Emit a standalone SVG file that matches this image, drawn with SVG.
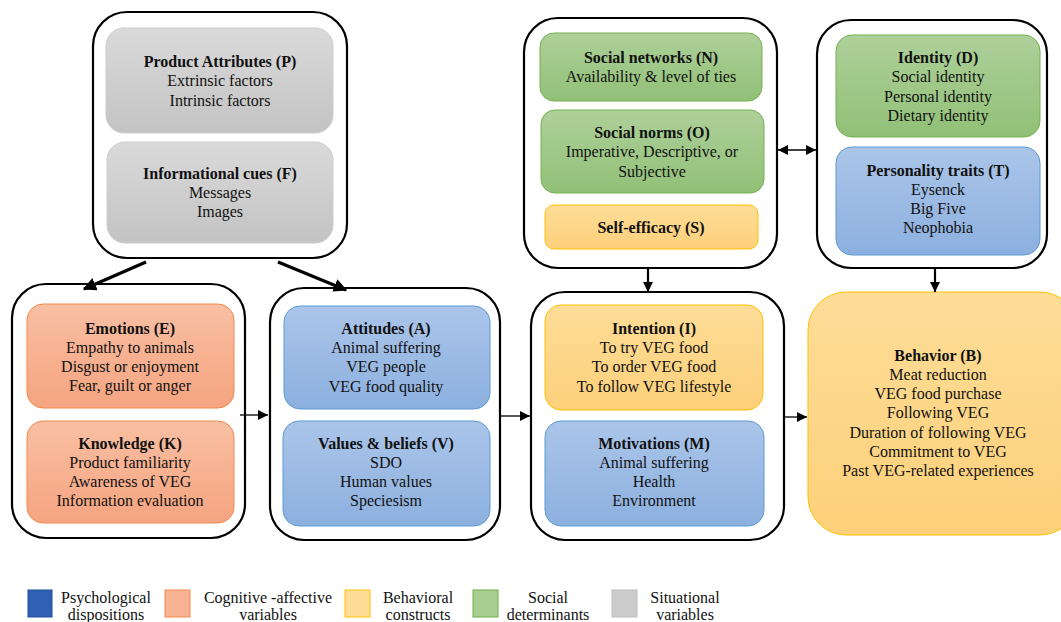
<svg xmlns="http://www.w3.org/2000/svg" width="1061" height="622" viewBox="0 0 1061 622">
<defs>
<linearGradient id="gGray" x1="0" y1="0" x2="0" y2="1"><stop offset="0" stop-color="#dadada"/><stop offset="1" stop-color="#c3c3c3"/></linearGradient>
<linearGradient id="gGreen" x1="0" y1="0" x2="0" y2="1"><stop offset="0" stop-color="#aed09a"/><stop offset="1" stop-color="#91c077"/></linearGradient>
<linearGradient id="gBlue" x1="0" y1="0" x2="0" y2="1"><stop offset="0" stop-color="#abc5e9"/><stop offset="1" stop-color="#8cb0df"/></linearGradient>
<linearGradient id="gOrange" x1="0" y1="0" x2="0" y2="1"><stop offset="0" stop-color="#f9bfa3"/><stop offset="1" stop-color="#f5a480"/></linearGradient>
<linearGradient id="gYellow" x1="0" y1="0" x2="0" y2="1"><stop offset="0" stop-color="#fedd98"/><stop offset="1" stop-color="#fdd07a"/></linearGradient>
<marker id="ah" viewBox="0 0 10 10" refX="10" refY="5" markerWidth="10" markerHeight="10" markerUnits="userSpaceOnUse" orient="auto-start-reverse"><path d="M0,0 L10,5 L0,10 Z" fill="#000"/></marker>
<marker id="ahT" viewBox="0 0 10 10" refX="9" refY="5" markerWidth="4.2" markerHeight="4.2" orient="auto"><path d="M0,0 L10,5 L0,10 Z" fill="#000"/></marker>
</defs>
<style>
.outer{fill:#fff;stroke:#000;stroke-width:2.2}
.gray{fill:url(#gGray);stroke:#cdcdcd;stroke-width:1}
.green{fill:url(#gGreen);stroke:#76b04e;stroke-width:1}
.blue{fill:url(#gBlue);stroke:#5b9bd5;stroke-width:1}
.orange{fill:url(#gOrange);stroke:#f08a4b;stroke-width:1}
.yellow{fill:url(#gYellow);stroke:#ffc000;stroke-width:1}
text{font-family:"Liberation Serif","Times New Roman",serif;font-size:16px;fill:#111;text-anchor:middle}
.t{font-weight:bold}
.conn{stroke:#000;fill:none}
</style>

<g id="container-situational">
<rect class="outer" x="93" y="12" width="254" height="246" rx="34"/>
</g>
<g id="node-P">
<rect class="gray" x="106" y="28" width="227" height="105" rx="18"/>
<text x="220" y="67" class="t">Product Attributes (P)</text>
<text x="220" y="86">Extrinsic factors</text>
<text x="220" y="106">Intrinsic factors</text>
</g>
<g id="node-F">
<rect class="gray" x="107" y="142" width="226" height="101" rx="18"/>
<text x="220" y="179" class="t">Informational cues (F)</text>
<text x="220" y="198">Messages</text>
<text x="220" y="217">Images</text>
</g>

<g id="container-social">
<rect class="outer" x="524" y="18" width="253" height="250" rx="34"/>
</g>
<g id="node-N">
<rect class="green" x="540" y="33" width="222" height="68" rx="14"/>
<text x="651" y="63" class="t">Social networks (N)</text>
<text x="651" y="82">Availability &amp; level of ties</text>
</g>
<g id="node-O">
<rect class="green" x="541" y="110" width="223" height="83" rx="14"/>
<text x="652" y="138" class="t">Social norms (O)</text>
<text x="652" y="157">Imperative, Descriptive, or</text>
<text x="652" y="177">Subjective</text>
</g>
<g id="node-S">
<rect class="yellow" x="545" y="205" width="213" height="44" rx="9"/>
<text x="651" y="233" class="t">Self-efficacy (S)</text>
</g>

<g id="container-identity">
<rect class="outer" x="817" y="20" width="230" height="248" rx="34"/>
</g>
<g id="node-D">
<rect class="green" x="836" y="35" width="204" height="102" rx="16"/>
<text x="938" y="63" class="t">Identity (D)</text>
<text x="938" y="82">Social identity</text>
<text x="938" y="102">Personal identity</text>
<text x="938" y="121">Dietary identity</text>
</g>
<g id="node-T">
<rect class="blue" x="836" y="147" width="204" height="108" rx="16"/>
<text x="938" y="176" class="t">Personality traits (T)</text>
<text x="938" y="195">Eysenck</text>
<text x="938" y="214">Big Five</text>
<text x="938" y="233">Neophobia</text>
</g>

<g id="container-cognitive">
<rect class="outer" x="12" y="284" width="233" height="254" rx="34"/>
</g>
<g id="node-E">
<rect class="orange" x="27" y="304" width="207" height="104" rx="16"/>
<text x="130" y="334" class="t">Emotions (E)</text>
<text x="130" y="353">Empathy to animals</text>
<text x="130" y="372">Disgust or enjoyment</text>
<text x="130" y="391">Fear, guilt or anger</text>
</g>
<g id="node-K">
<rect class="orange" x="27" y="421" width="207" height="102" rx="16"/>
<text x="130" y="449" class="t">Knowledge (K)</text>
<text x="130" y="468">Product familiarity</text>
<text x="130" y="487">Awareness of VEG</text>
<text x="130" y="506">Information evaluation</text>
</g>

<g id="container-psych">
<rect class="outer" x="270" y="288" width="230" height="252" rx="34"/>
</g>
<g id="node-A">
<rect class="blue" x="284" y="306" width="206" height="103" rx="16"/>
<text x="386" y="334" class="t">Attitudes (A)</text>
<text x="386" y="353">Animal suffering</text>
<text x="386" y="372">VEG people</text>
<text x="386" y="392">VEG food quality</text>
</g>
<g id="node-V">
<rect class="blue" x="283" y="421" width="207" height="105" rx="16"/>
<text x="386" y="449" class="t">Values &amp; beliefs (V)</text>
<text x="386" y="468">SDO</text>
<text x="386" y="487">Human values</text>
<text x="386" y="506">Speciesism</text>
</g>

<g id="container-intention">
<rect class="outer" x="531" y="292" width="253" height="248" rx="34"/>
</g>
<g id="node-I">
<rect class="yellow" x="545" y="305" width="218" height="105" rx="16"/>
<text x="654" y="334" class="t">Intention (I)</text>
<text x="654" y="353">To try VEG food</text>
<text x="654" y="372">To order VEG food</text>
<text x="654" y="392">To follow VEG lifestyle</text>
</g>
<g id="node-M">
<rect class="blue" x="545" y="421" width="219" height="105" rx="16"/>
<text x="654" y="449" class="t">Motivations (M)</text>
<text x="654" y="468">Animal suffering</text>
<text x="654" y="487">Health</text>
<text x="654" y="506">Environment</text>
</g>

<g id="node-B">
<rect class="yellow" x="808" y="292" width="270" height="243" rx="38"/>
<text x="938" y="361" class="t">Behavior (B)</text>
<text x="938" y="380">Meat reduction</text>
<text x="938" y="399">VEG food purchase</text>
<text x="938" y="418">Following VEG</text>
<text x="938" y="438">Duration of following VEG</text>
<text x="938" y="457">Commitment to VEG</text>
<text x="938" y="476">Past VEG-related experiences</text>
</g>

<g id="connectors">
<line class="conn" x1="146" y1="262" x2="84" y2="289" stroke-width="3.2" marker-end="url(#ahT)"/>
<line class="conn" x1="278" y1="262" x2="346" y2="290" stroke-width="3.2" marker-end="url(#ahT)"/>
<line class="conn" x1="240" y1="415" x2="268" y2="415" stroke-width="1.3" marker-end="url(#ah)"/>
<line class="conn" x1="500" y1="416" x2="530" y2="416" stroke-width="1.3" marker-end="url(#ah)"/>
<line class="conn" x1="784" y1="417" x2="807" y2="417" stroke-width="1.3" marker-end="url(#ah)"/>
<line class="conn" x1="778" y1="150" x2="816" y2="150" stroke-width="1.3" marker-start="url(#ah)" marker-end="url(#ah)"/>
<line class="conn" x1="648" y1="268" x2="648" y2="292" stroke-width="2.2" marker-end="url(#ah)"/>
<line class="conn" x1="935" y1="268" x2="935" y2="292" stroke-width="2.2" marker-end="url(#ah)"/>
</g>

<g id="legend">
<rect x="28" y="590" width="24" height="27" fill="#2f62b4" stroke="#1f4e9a" stroke-width="1"/>
<text x="106" y="603">Psychological</text>
<text x="106" y="620">dispositions</text>
<rect x="165" y="590" width="25" height="27" fill="#f8b395" stroke="#f08a4b" stroke-width="1"/>
<text x="268" y="603">Cognitive -affective</text>
<text x="268" y="620">variables</text>
<rect x="345" y="590" width="25" height="27" fill="#fedd96" stroke="#ffc000" stroke-width="1"/>
<text x="418" y="603">Behavioral</text>
<text x="418" y="620">constructs</text>
<rect x="473" y="590" width="25" height="27" fill="#a8cf90" stroke="#70ad47" stroke-width="1"/>
<text x="548" y="603">Social</text>
<text x="548" y="620">determinants</text>
<rect x="612" y="590" width="25" height="27" fill="#cccccc" stroke="#bdbdbd" stroke-width="1"/>
<text x="685" y="603">Situational</text>
<text x="685" y="620">variables</text>
</g>
</svg>
